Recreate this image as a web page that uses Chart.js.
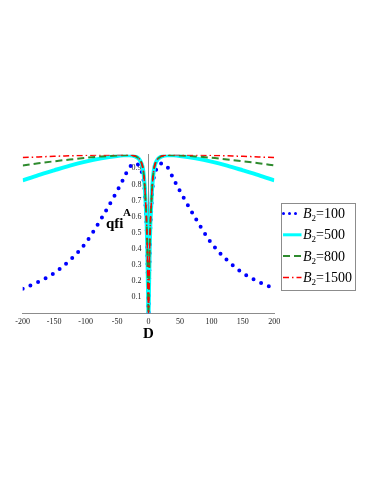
<!DOCTYPE html>
<html>
<head>
<meta charset="utf-8">
<script src="https://cdn.jsdelivr.net/npm/chart.js@4.4.1/dist/chart.umd.min.js"></script>
<style>
  html, body { margin: 0; padding: 0; background: #fff; }
  canvas { display: block; }
</style>
</head>
<body>
<canvas id="qfiChart" width="382" height="494"></canvas>
<script>
// values
const dValues = [-200, -175, -150, -125, -100, -75, -50, -40, -30, -20, -15, -11, -8.5, -6, -4.5, -3, -2, -1, 0,
                 1, 2, 3, 4.5, 6, 8.5, 11, 15, 20, 30, 40, 50, 75, 100, 125, 150, 175, 200];

const qfiB100 = [0.153, 0.196, 0.250, 0.330, 0.436, 0.589, 0.759, 0.833, 0.908, 0.930, 0.915, 0.880, 0.845, 0.760, 0.655, 0.540, 0.400, 0.190, 0,
                 0.190, 0.400, 0.540, 0.655, 0.760, 0.845, 0.880, 0.915, 0.930, 0.908, 0.833, 0.759, 0.589, 0.436, 0.330, 0.250, 0.196, 0.153];
const qfiB500 = [0.825, 0.858, 0.888, 0.917, 0.942, 0.962, 0.977, 0.981, 0.982, 0.972, 0.958, 0.930, 0.890, 0.790, 0.680, 0.560, 0.420, 0.200, 0,
                 0.200, 0.420, 0.560, 0.680, 0.790, 0.890, 0.930, 0.958, 0.972, 0.982, 0.981, 0.977, 0.962, 0.942, 0.917, 0.888, 0.858, 0.825];
const qfiB800 = [0.918, 0.932, 0.944, 0.955, 0.966, 0.974, 0.980, 0.982, 0.983, 0.974, 0.960, 0.932, 0.892, 0.792, 0.682, 0.562, 0.422, 0.200, 0,
                 0.200, 0.422, 0.562, 0.682, 0.792, 0.892, 0.932, 0.960, 0.974, 0.983, 0.982, 0.980, 0.974, 0.966, 0.955, 0.944, 0.932, 0.918];
const qfiB1500 = [0.967, 0.971, 0.975, 0.978, 0.981, 0.983, 0.984, 0.984, 0.984, 0.975, 0.961, 0.933, 0.893, 0.793, 0.683, 0.563, 0.423, 0.200, 0,
                  0.200, 0.423, 0.563, 0.683, 0.793, 0.893, 0.933, 0.961, 0.975, 0.984, 0.984, 0.984, 0.983, 0.981, 0.978, 0.975, 0.971, 0.967];

const b2Labels = ['100', '500', '800', '1500'];
const xTicks = [-200, -150, -100, -50, 0, 50, 100, 150, 200];
const yTicks = [0.1, 0.2, 0.3, 0.4, 0.5, 0.6, 0.7, 0.8, 0.9];

const serif = '"Liberation Serif", "Times New Roman", serif';

function toPoints(values) {
    return dValues.map((d, i) => ({ x: d, y: values[i] }));
}

const styles = [
    { color: '#0000ff', width: 4, dash: [0, 8.4], cap: 'round', order: 4 },
    { color: '#00ffff', width: 4, dash: [], cap: 'butt', order: 3 },
    { color: '#2e8b2e', width: 2, dash: [7, 4], cap: 'butt', order: 2 },
    { color: '#ff0000', width: 1.5, dash: [6, 3, 1.5, 3], cap: 'butt', order: 1 }
];
const seriesData = [qfiB100, qfiB500, qfiB800, qfiB1500];

// legend + axis titles drawn on top
const decorations = {
    id: 'decorations',
    afterDraw(chart) {
        const ctx = chart.ctx;
        ctx.save();
        ctx.fillStyle = '#000';
        ctx.textAlign = 'center';
        ctx.textBaseline = 'alphabetic';
        ctx.font = 'bold 15px ' + serif;
        ctx.fillText('D', chart.scales.x.getPixelForValue(0), 338);

        ctx.textAlign = 'left';
        ctx.fillText('qfi', 106, 228);
        ctx.font = 'bold 11px ' + serif;
        ctx.fillText('A', 123, 215.5);

        // legend box
        const box = { left: 281, top: 203, width: 74, height: 87 };
        ctx.strokeStyle = '#8c8c8c';
        ctx.lineWidth = 1;
        ctx.strokeRect(box.left + 0.5, box.top + 0.5, box.width, box.height);

        b2Labels.forEach((lab, i) => {
            const st = styles[i];
            const cy = 213.5 + i * 21.3;
            ctx.beginPath();
            ctx.strokeStyle = st.color;
            ctx.lineWidth = Math.min(st.width, 3);
            ctx.lineCap = st.cap;
            ctx.setLineDash(i === 0 ? [0, 6] : st.dash);
            ctx.moveTo(i === 0 ? 283.5 : 283, cy);
            ctx.lineTo(301.5, cy);
            ctx.stroke();
            ctx.setLineDash([]);

            let x = 303;
            const base = cy + 4.5;
            ctx.fillStyle = '#000';
            ctx.font = 'italic 14px ' + serif;
            ctx.fillText('B', x, base);
            x += ctx.measureText('B').width;
            ctx.font = '9px ' + serif;
            ctx.fillText('2', x, base + 3);
            x += ctx.measureText('2').width;
            ctx.font = '14px ' + serif;
            ctx.fillText('=' + lab, x, base);
        });
        ctx.restore();
    }
};

const ctx = document.getElementById('qfiChart').getContext('2d');
new Chart(ctx, {
    type: 'line',
    data: {
        datasets: seriesData.map((vals, i) => ({
            label: 'B2=' + b2Labels[i],
            data: toPoints(vals),
            borderColor: styles[i].color,
            borderWidth: styles[i].width,
            borderDash: styles[i].dash,
            borderCapStyle: styles[i].cap,
            cubicInterpolationMode: 'monotone',
            pointRadius: 0,
            fill: false,
            order: styles[i].order
        }))
    },
    options: {
        responsive: false,
        animation: false,
        layout: { padding: { left: 22.7, right: 107.7, top: 154.7, bottom: 180.7 } },
        plugins: {
            legend: { display: false },
            tooltip: { enabled: false }
        },
        scales: {
            x: {
                type: 'linear',
                min: -200,
                max: 200,
                position: { y: 0 },
                grid: { display: false, drawTicks: false },
                border: { color: '#8c8c8c', width: 1 },
                afterBuildTicks: scale => { scale.ticks = xTicks.map(v => ({ value: v })); },
                ticks: {
                    padding: 4,
                    maxRotation: 0,
                    color: '#222',
                    font: { family: serif, size: 8 },
                    callback: v => String(v)
                }
            },
            y: {
                type: 'linear',
                min: 0,
                max: 0.985,
                position: 'center',
                grid: { display: false, drawTicks: false },
                border: { color: '#8c8c8c', width: 1 },
                afterBuildTicks: scale => { scale.ticks = yTicks.map(v => ({ value: v })); },
                ticks: {
                    padding: 7,
                    color: '#222',
                    font: { family: serif, size: 8 },
                    callback: v => v.toFixed(1)
                }
            }
        }
    },
    plugins: [decorations]
});
</script>
</body>
</html>
